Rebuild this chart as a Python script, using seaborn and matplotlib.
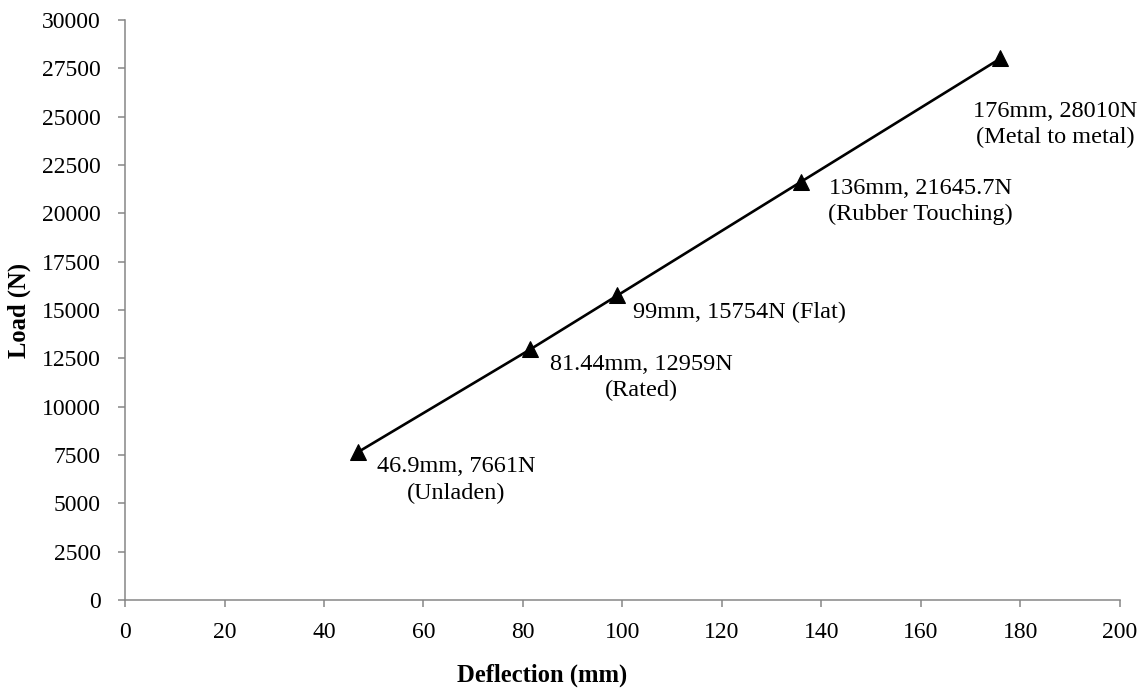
import matplotlib
matplotlib.use("Agg")
import matplotlib.pyplot as plt
import pandas as pd
import seaborn as sns

deflection = [46.9, 81.44, 99, 136, 176]
load = [7661, 12959, 15754, 21645.7, 28010]
labels = [
    "46.9mm, 7661N\n(Unladen)",
    "81.44mm, 12959N\n(Rated)",
    "99mm, 15754N (Flat)",
    "136mm, 21645.7N\n(Rubber Touching)",
    "176mm, 28010N\n(Metal to metal)",
]

df = pd.DataFrame({"Deflection": deflection, "Load": load})

sns.set_theme(style="white")
plt.rcParams["font.family"] = ["Liberation Serif", "DejaVu Serif"]
plt.rcParams["text.color"] = "black"
plt.rcParams["axes.labelcolor"] = "black"

fig = plt.figure(figsize=(11.42, 6.88), dpi=100)
ax = fig.add_axes([0.1095, 0.1279, 0.871, 0.843])

sns.lineplot(data=df, x="Deflection", y="Load", color="black", linewidth=1.9,
             marker="^", markersize=11, markeredgecolor="black", ax=ax)

# label offsets in pixels from each point, plus horizontal alignment
offsets = [(98, -28, "center"), (111, -28, "center"), (16, -17, "left"),
           (119, -20, "center"), (55, -66, "center")]
for x, y, txt, (dx, dy, ha) in zip(deflection, load, labels, offsets):
    ax.annotate(txt, (x, y), xytext=(dx, dy), textcoords="offset pixels",
                ha=ha, va="center", multialignment="center", fontsize=17.5,
                linespacing=1.35, color="black", annotation_clip=False)

ax.set_xlim(0, 200)
ax.set_ylim(0, 30000)
ax.set_xticks(range(0, 201, 20))
ax.set_yticks(range(0, 30001, 2500))
ax.set_xlabel("Deflection (mm)", fontsize=17.7, fontweight="bold")
ax.set_ylabel("Load (N)", fontsize=17.7, fontweight="bold", labelpad=8)
ax.xaxis.set_label_coords(0.419, -0.11)

for side in ["top", "right"]:
    ax.spines[side].set_visible(False)
for side in ["left", "bottom"]:
    ax.spines[side].set_color("#868686")
    ax.spines[side].set_linewidth(1.1)
ax.tick_params(axis="both", direction="out", length=5, width=1.1,
               color="#868686", labelcolor="black", labelsize=17,
               left=True, bottom=True)
ax.tick_params(axis="y", pad=12.5)
ax.tick_params(axis="x", pad=11)

fig.savefig("out.png", dpi=100)
